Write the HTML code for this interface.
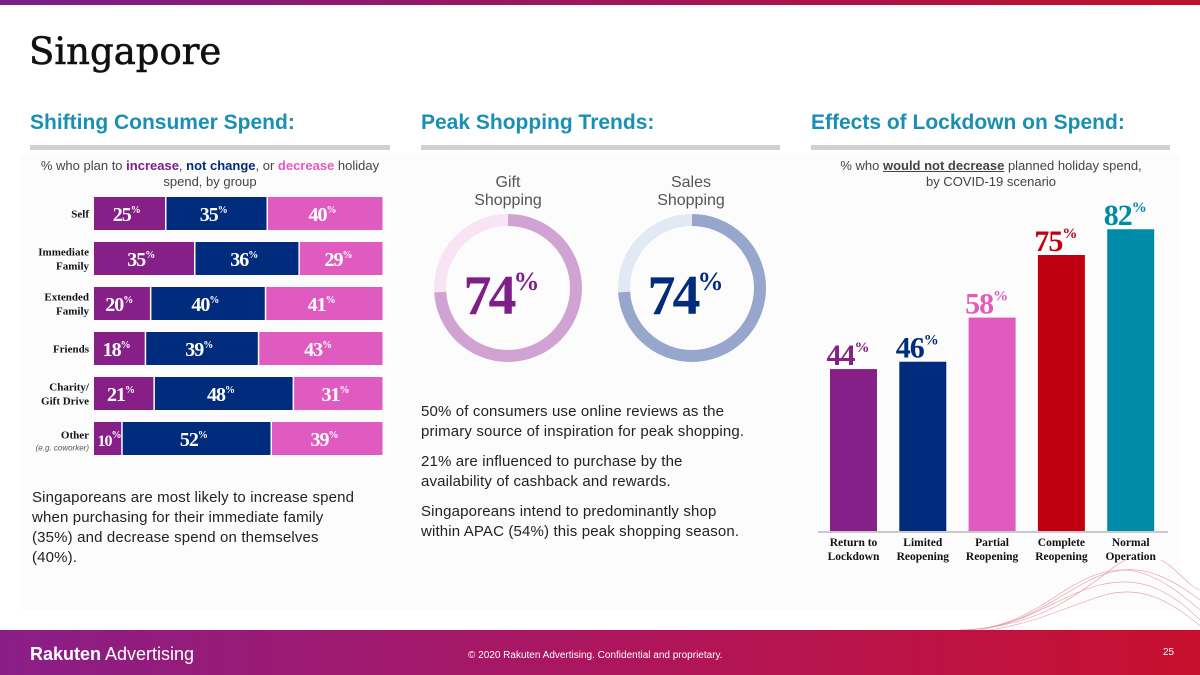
<!DOCTYPE html>
<html><head><meta charset="utf-8"><style>
body{margin:0;width:1200px;height:675px;position:relative;background:#fff;font-family:"Liberation Sans",sans-serif;overflow:hidden}
.abs{position:absolute}
.h2{position:absolute;top:111px;font-size:21px;font-weight:bold;color:#1a8fb5}
.rule{position:absolute;top:145px;height:5px;background:#d0d0d0}
.body{position:absolute;font-size:15px;color:#222;line-height:20px;white-space:nowrap;letter-spacing:0.15px}
</style></head><body>
<div class="abs" style="left:0;top:0;width:1200px;height:5px;background:linear-gradient(90deg,#7a1e8a,#c0102a)"></div>
<div class="abs" style="left:29px;top:30px;font-size:37px;font-family:'DejaVu Serif',serif;color:#111;-webkit-text-stroke:0.6px #111">Singapore</div>
<div class="abs" style="left:20px;top:155px;width:1160px;height:455px;background:#fcfcfc"></div>

<div class="h2" style="left:30px">Shifting Consumer Spend:</div>
<div class="rule" style="left:30px;width:360px"></div>
<div class="h2" style="left:421px">Peak Shopping Trends:</div>
<div class="rule" style="left:421px;width:359px"></div>
<div class="h2" style="left:811px">Effects of Lockdown on Spend:</div>
<div class="rule" style="left:811px;width:359px"></div>

<div class="abs" style="left:30px;top:158px;width:360px;text-align:center;font-size:13px;color:#444;line-height:16px">% who plan to <b style="color:#7d1f86">increase</b>, <b style="color:#012b7d">not change</b>, or <b style="color:#e05bbf">decrease</b> holiday spend, by group</div>
<svg class="abs" id="stack" style="left:0;top:0" width="400" height="480"></svg>

<div class="body" style="left:32px;top:488px">Singaporeans are most likely to increase spend<br>when purchasing for their immediate family<br>(35%) and decrease spend on themselves<br>(40%).</div>

<div class="abs" style="left:458px;top:174px;width:100px;text-align:center;font-size:16px;color:#555;line-height:18px">Gift<br>Shopping</div>
<div class="abs" style="left:641px;top:174px;width:100px;text-align:center;font-size:16px;color:#555;line-height:18px">Sales<br>Shopping</div>
<svg class="abs" id="donuts" style="left:400px;top:200px" width="400" height="180"></svg>

<div class="body" style="left:421px;top:402px">50% of consumers use online reviews as the<br>primary source of inspiration for peak shopping.<div style="height:10px"></div>21% are influenced to purchase by the<br>availability of cashback and rewards.<div style="height:10px"></div>Singaporeans intend to predominantly shop<br>within APAC (54%) this peak shopping season.</div>

<div class="abs" style="left:811px;top:158px;width:360px;text-align:center;font-size:13px;color:#444;line-height:16px">% who <b><u>would not decrease</u></b> planned holiday spend,<br>by COVID-19 scenario</div>
<svg class="abs" id="bars" style="left:0;top:0" width="1200" height="570"></svg>

<svg class="abs" style="left:960px;top:560px" width="240" height="70">
<g fill="none" stroke="#d03050" stroke-width="0.6" opacity="0.5">
<path d="M0 70 C60 70 90 40 130 20 S200 10 240 40"/><path d="M10 70 C70 65 95 30 135 15 S205 20 240 50"/><path d="M20 70 C75 60 100 35 140 25 S210 30 240 60"/><path d="M30 70 C80 62 110 45 145 35 S210 40 240 66"/><path d="M0 70 C60 68 100 50 150 10 S220 25 240 30"/></g></svg>

<div class="abs" style="left:0;top:630px;width:1200px;height:45px;background:linear-gradient(90deg,#8a1e88,#b0155a 55%,#c8102e)"></div>
<div class="abs" style="left:30px;top:644px;font-size:18px;color:#fff"><b>Rakuten</b> Advertising</div>
<div class="abs" style="left:468px;top:650px;font-size:10px;color:#fff">© 2020 Rakuten Advertising. Confidential and proprietary.</div>
<div class="abs" style="left:1163px;top:647px;font-size:10px;color:#fff">25</div>

<script>
const NS='http://www.w3.org/2000/svg';
function mk(p,t,a){const e=document.createElementNS(NS,t);for(const k in a)e.setAttribute(k,a[k]);p.appendChild(e);return e;}
const groups=['Self','Immediate|Family','Extended|Family','Friends','Charity/|Gift Drive','Other'];
const increase=[25,35,20,18,21,10];
const noChange=[35,36,40,39,48,52];
const decrease=[40,29,41,43,31,39];
const sColors=['#861f87','#012b7d','#e05bbf'];
const st=document.getElementById('stack');
const x0=94,W=290,y0=197,rowStep=45,rowH=33;
groups.forEach((g,i)=>{
  const vals=[increase[i],noChange[i],decrease[i]];const tot=vals[0]+vals[1]+vals[2];
  const y=y0+i*rowStep;let x=x0;
  vals.forEach((v,j)=>{
    const w=v/tot*W;
    const r=mk(st,'rect',{x:x,y:y,width:w-1.5,height:rowH,fill:sColors[j]});
    
    
    const cxl=Math.max(x+w/2-4,x+15);
    const t=mk(st,'text',{x:cxl,y:y+24,'text-anchor':'middle',fill:'#fff','font-size':w<35?16:20,'font-weight':'bold','font-family':'Liberation Serif,serif','letter-spacing':-1});
    t.textContent=v;
    const sp=mk(t,'tspan',{'font-size':10,dy:-8});sp.textContent='%';
    
    
    x+=w;
  });
  const lines=g.split('|');
  lines.forEach((l,k)=>{
    const yy=g==='Other'?y+rowH/2:y+rowH/2+4+(k-(lines.length-1)/2)*14;
    const t=mk(st,'text',{x:89,y:yy,'text-anchor':'end','font-size':11,'font-weight':'bold','font-family':'Liberation Serif,serif',fill:'#111'});
    t.textContent=l;
    
    
  });
  if(g==='Other'){const t=mk(st,'text',{x:89,y:y+rowH/2+12,'text-anchor':'end','font-size':8,'font-style':'italic',fill:'#555'});t.textContent='(e.g. coworker)';
    
    }
});
const donutVals=[74,74];
const donutColors=['#d0a3d2','#96a6cc'];const donutBg=['#f8e4f4','#e2e8f4'];const donutText=['#7d1f86','#012b7d'];
const dn=document.getElementById('donuts');
donutVals.forEach((v,i)=>{
  const cx=108+i*184,cy=88,r=68,c=2*Math.PI*r;
  const bg=mk(dn,'circle',{cx,cy,r,fill:'none',stroke:donutBg[i],'stroke-width':12});
  
  
  const a=mk(dn,'circle',{cx,cy,r,fill:'none',stroke:donutColors[i],'stroke-width':12,'stroke-dasharray':(v/100*c)+' '+c,transform:`rotate(-90 ${cx} ${cy})`});
  
  
  const t=mk(dn,'text',{x:cx-8,y:cy+26,'text-anchor':'middle',fill:donutText[i],'font-size':56,'font-weight':'bold','font-family':'Liberation Serif,serif','letter-spacing':-3});
  t.textContent=v;const sp=mk(t,'tspan',{'font-size':26,dy:-24});sp.textContent='%';
  
  
});
const scenarios=['Return to|Lockdown','Limited|Reopening','Partial|Reopening','Complete|Reopening','Normal|Operation'];
const notDecrease=[44,46,58,75,82];
const bColors=['#861f87','#012b7d','#e05bbf','#c00010','#008ba9'];
const bs=document.getElementById('bars');
const base=531,k=3.68,bx0=830,bstep=69.3,bw=47;
const yS=v=>base-v*k;
const ax=mk(bs,'line',{x1:818,x2:1168,y1:base+1,y2:base+1,stroke:'#999','stroke-width':1});


notDecrease.forEach((v,i)=>{
  const x=bx0+i*bstep;
  const r=mk(bs,'rect',{x,y:yS(v),width:bw,height:base-yS(v),fill:bColors[i]});
  
  
  const t=mk(bs,'text',{x:x+bw/2-6,y:yS(v)-4,'text-anchor':'middle',fill:bColors[i],'font-size':30,'font-weight':'bold','font-family':'Liberation Serif,serif','letter-spacing':-1});
  t.textContent=v;const sp=mk(t,'tspan',{'font-size':15,dy:-13});sp.textContent='%';
  
  
  scenarios[i].split('|').forEach((l,j)=>{
    const lt=mk(bs,'text',{x:x+bw/2,y:546+j*14,'text-anchor':'middle','font-size':11.5,'font-weight':'bold','font-family':'Liberation Serif,serif',fill:'#111'});
    lt.textContent=l;
    
    
  });
});
</script>
</body></html>
